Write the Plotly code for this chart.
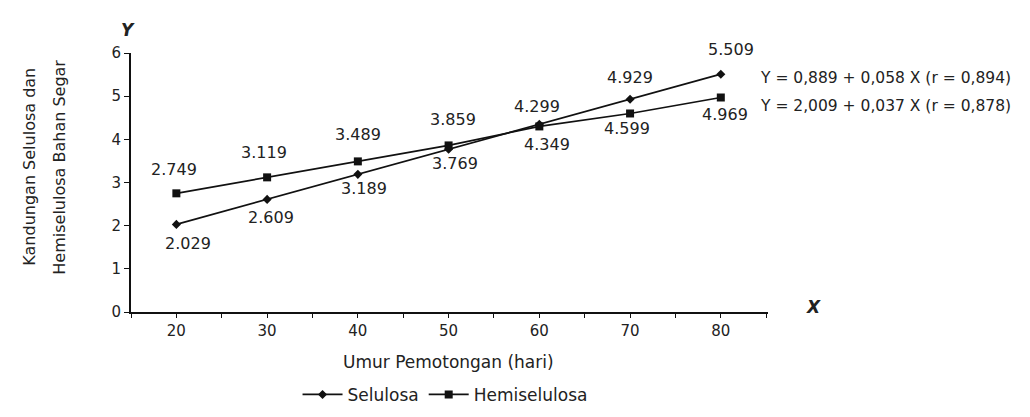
import plotly.graph_objects as go

# ---- data ----
umur = [20, 30, 40, 50, 60, 70, 80]
selulosa = [2.029, 2.609, 3.189, 3.769, 4.349, 4.929, 5.509]
hemiselulosa = [2.749, 3.119, 3.489, 3.859, 4.299, 4.599, 4.969]
series_names = ["Selulosa", "Hemiselulosa"]
equations = ["Y = 0,889 + 0,058 X (r = 0,894)", "Y = 2,009 + 0,037 X (r = 0,878)"]
x_title = "Umur Pemotongan (hari)"
y_title_lines = ["Kandungan Selulosa dan", "Hemiselulosa Bahan Segar"]

# ---- label offsets (pixels) ----
sel_dx = [12, 4, 6, 6, 8, 0, 10]
sel_dy = [-19, -18, -14, -14, -20, 22, 25]
hem_dx = [-2, -3, 0, 4, -2, -3, 4]
hem_dy = [24, 25, 27, 26, 20, -15, -17]

FONT = "DejaVu Sans"
TXT = "#222222"

fig = go.Figure()
fig.add_trace(go.Scatter(
    x=umur, y=selulosa, name=series_names[0], mode="lines+markers",
    line=dict(color="#111111", width=1.7),
    marker=dict(symbol="diamond", size=7, color="#111111"),
))
fig.add_trace(go.Scatter(
    x=umur, y=hemiselulosa, name=series_names[1], mode="lines+markers",
    line=dict(color="#111111", width=1.7),
    marker=dict(symbol="square", size=8, color="#111111"),
))

annotations = []
for xv, yv, dx, dy in zip(umur, selulosa, sel_dx, sel_dy):
    annotations.append(dict(x=xv, y=yv, xref="x", yref="y", text=f"{yv:.3f}",
                            showarrow=False, xshift=dx, yshift=dy,
                            xanchor="center", yanchor="middle",
                            font=dict(family=FONT, size=16, color=TXT)))
for xv, yv, dx, dy in zip(umur, hemiselulosa, hem_dx, hem_dy):
    annotations.append(dict(x=xv, y=yv, xref="x", yref="y", text=f"{yv:.3f}",
                            showarrow=False, xshift=dx, yshift=dy,
                            xanchor="center", yanchor="middle",
                            font=dict(family=FONT, size=16, color=TXT)))

# equations
for eq, yy in zip(equations, [0.903, 0.795]):
    annotations.append(dict(x=0.985, y=yy, xref="paper", yref="paper", text=eq,
                            showarrow=False, xanchor="left", yanchor="middle",
                            font=dict(family=FONT, size=15.5, color=TXT)))

# axis letters
annotations.append(dict(x=-0.005, y=1.09, xref="paper", yref="paper", text="<b><i>Y</i></b>",
                        showarrow=False, xanchor="center", yanchor="middle",
                        font=dict(family=FONT, size=17, color=TXT)))
annotations.append(dict(x=1.071, y=0.018, xref="paper", yref="paper", text="<b><i>X</i></b>",
                        showarrow=False, xanchor="center", yanchor="middle",
                        font=dict(family=FONT, size=17, color=TXT)))

# axis titles
annotations.append(dict(x=0.499, y=-0.194, xref="paper", yref="paper", text=x_title,
                        showarrow=False, xanchor="center", yanchor="middle",
                        font=dict(family=FONT, size=17, color=TXT)))
for xp, line in zip([-0.1586, -0.1115], y_title_lines):
    annotations.append(dict(x=xp, y=0.561, xref="paper", yref="paper", text=line,
                            showarrow=False, textangle=-90,
                            xanchor="center", yanchor="middle",
                            font=dict(family=FONT, size=16, color=TXT)))

fig.update_layout(
    width=1030, height=417,
    margin=dict(l=123, r=270, t=45, b=94),
    paper_bgcolor="white", plot_bgcolor="white",
    font=dict(family=FONT, size=15, color=TXT),
    showlegend=True,
    legend=dict(orientation="h", x=0.493, y=-0.32, xanchor="center", yanchor="middle",
                font=dict(family=FONT, size=17, color=TXT), itemwidth=40,
                tracegroupgap=0),
    annotations=annotations,
    xaxis=dict(range=[15, 85.2], tick0=20, dtick=10, showgrid=False, zeroline=False,
               showline=True, linecolor="#111111", linewidth=1.7,
               ticks="outside", ticklen=4, tickcolor="#111111",
               minor=dict(dtick=5, ticks="outside", ticklen=4, tickcolor="#111111"),
               tickfont=dict(family=FONT, size=15, color=TXT)),
    yaxis=dict(range=[0, 6], dtick=1, showgrid=False, zeroline=False,
               showline=True, linecolor="#111111", linewidth=1.7,
               ticks="outside", ticklen=5, tickcolor="#111111",
               tickfont=dict(family=FONT, size=15, color=TXT)),
)

fig.write_html("out.html")
